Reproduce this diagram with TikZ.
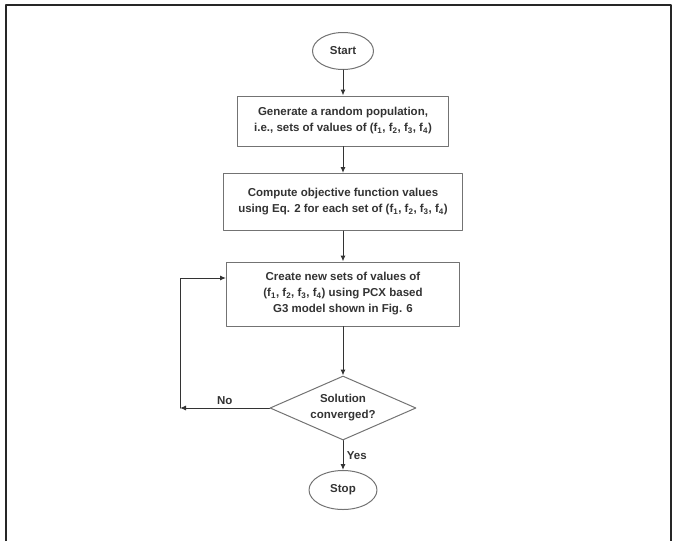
\documentclass[tikz,border=0pt]{standalone}
\usepackage{fontspec}
\setmainfont{Liberation Sans}
\usetikzlibrary{shapes.geometric,arrows.meta}
\newcommand{\fvals}{(f\textsubscript{1}, f\textsubscript{2}, f\textsubscript{3}, f\textsubscript{4})}
\begin{document}
\begin{tikzpicture}[x=1pt,y=-1pt,line cap=round,line join=round,
    every node/.style={font=\bfseries\fontsize{11.5}{16}\selectfont,text=black!80},
    term/.style={draw=black!55,line width=1pt,ellipse,inner sep=0pt},
    procbox/.style={draw=black!55,line width=1pt,rectangle,align=center,inner sep=0pt},
    decide/.style={draw=black!55,line width=1pt,diamond,aspect=2.3,align=center,inner sep=0pt},
    flow/.style={-{Latex[length=6pt,width=5pt]},black!80,line width=1pt}]
        \useasboundingbox (0,0) rectangle (677,541);
        \draw[line width=2.5pt,black!85,line cap=butt] (6,541) -- (6,5) -- (671,5) -- (671,541);

        \node[term,minimum width=61pt,minimum height=37pt] (start) at (343,51) {Start};
        \node[procbox,minimum width=211pt,minimum height=50pt] (gen) at (343,121)
          {Generate a random population,\\ i.e., sets of values of \fvals};
        \node[procbox,minimum width=239pt,minimum height=57pt] (comp) at (343,202)
          {Compute objective function values\\ using Eq. 2 for each set of \fvals};
        \node[procbox,minimum width=233pt,minimum height=64pt] (create) at (343,294)
          {Create new sets of values of\\ \fvals{} using PCX based\\ G3 model shown in Fig. 6};
        \node[decide,minimum width=146pt,minimum height=64pt] (conv) at (343,408)
          {Solution\\ converged?};
        \node[term,minimum width=68pt,minimum height=39pt] (stop) at (343,490) {Stop};
        \coordinate (back) at (180,408);

        \draw[flow] (start) -- (gen);
        \draw[flow] (gen) -- (comp);
        \draw[flow] (comp) -- (create);
        \draw[flow] (create) -- (conv);
        \draw[flow] (conv) -- node[right] {Yes} (stop);
        \draw[flow] (conv.west) -- node[above] {No} (back);
        \draw[flow] (back) |- ([yshift=16pt]create.west);
\end{tikzpicture}
\end{document}
